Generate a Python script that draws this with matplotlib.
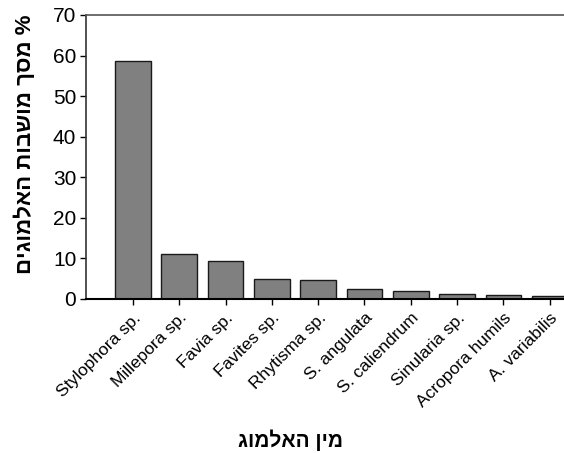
import matplotlib
matplotlib.use("Agg")
import matplotlib.pyplot as plt

species = ["Stylophora sp.", "Millepora sp.", "Favia sp.", "Favites sp.",
           "Rhytisma sp.", "S. angulata", "S. caliendrum", "Sinularia sp.",
           "Acropora humils", "A. variabilis"]
percent = [58.7, 11.1, 9.3, 5.0, 4.8, 2.5, 1.9, 1.25, 0.9, 0.65]

ylabel_he = "% מסך מושבות האלמוגים"
xlabel_he = "מין האלמוג"

plt.rcParams['font.family'] = ['Liberation Sans', 'DejaVu Sans']

fig = plt.figure(figsize=(5.64, 4.53), dpi=100)
ax = fig.add_axes([86 / 564, 1 - 299 / 453, 1 - 86 / 564, (299 - 15) / 453])

x = list(range(len(species)))
ax.bar(x, percent, width=0.77, color='#808080', edgecolor='#1a1a1a', linewidth=1.0)

ax.set_xlim(-1.015, 9.31)
ax.set_ylim(0, 70)
ax.set_yticks(range(0, 71, 10))
ax.set_xticks(x)
ax.set_xticklabels(species, rotation=45, ha='right', rotation_mode='anchor', fontsize=12.5)
ax.tick_params(axis='y', labelsize=15, length=4, width=1, direction='out', pad=3)
ax.tick_params(axis='x', length=4, width=1, direction='out', pad=4)

ax.spines['right'].set_visible(False)
ax.spines['top'].set_color('#555555')
ax.spines['top'].set_linewidth(1.2)
ax.spines['left'].set_color('#333333')
ax.spines['left'].set_linewidth(1.2)
ax.spines['bottom'].set_linewidth(1.5)

# matplotlib has no bidi support: feed the Hebrew in visual order
fig.text(25 / 564, 1 - 144 / 453, ylabel_he[::-1], rotation=90, fontsize=16,
         fontweight='bold', ha='center', va='center')
fig.text(291 / 564, 1 - 440 / 453, xlabel_he[::-1], fontsize=15, fontweight='bold',
         ha='center', va='center')

fig.savefig("out.png", dpi=100)
